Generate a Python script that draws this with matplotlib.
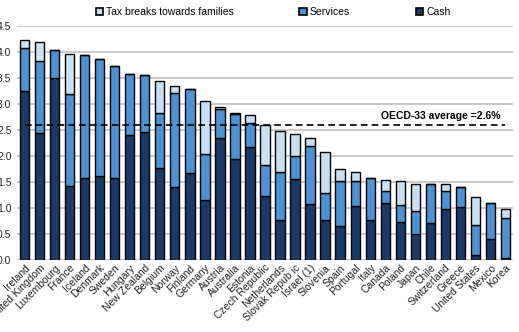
import matplotlib
matplotlib.use('Agg')
import matplotlib.pyplot as plt
from matplotlib.patches import Patch
import numpy as np

# Family benefit spending (% of GDP)
countries = ['Ireland', 'United Kingdom', 'Luxembourg', 'France', 'Iceland', 'Denmark',
             'Sweden', 'Hungary', 'New Zealand', 'Belgium', 'Norway', 'Finland',
             'Germany', 'Austria', 'Australia', 'Estonia', 'Czech Republic',
             'Netherlands', 'Slovak Repub ic', 'Israel (1)', 'Slovenia', 'Spain',
             'Portugal', 'Italy', 'Canada', 'Poland', 'Japan', 'Chile', 'Switzerland',
             'Greece', 'United States', 'Mexico', 'Korea']
cash = [3.25, 2.45, 3.50, 1.42, 1.57, 1.61, 1.57, 2.40, 2.47, 1.76, 1.41, 1.67,
        1.15, 2.34, 1.94, 2.17, 1.23, 0.77, 1.55, 1.08, 0.76, 0.66, 1.03, 0.77,
        1.10, 0.74, 0.50, 0.72, 0.99, 1.01, 0.10, 0.40, 0.03]
services = [0.82, 1.38, 0.53, 1.77, 2.38, 2.26, 2.17, 1.17, 1.08, 1.06, 1.81, 1.61,
            0.89, 0.57, 0.86, 0.46, 0.60, 0.93, 0.45, 1.12, 0.52, 0.86, 0.48, 0.80,
            0.23, 0.32, 0.44, 0.75, 0.34, 0.40, 0.57, 0.70, 0.77]
tax_breaks = [0.16, 0.37, 0.00, 0.77, 0.00, 0.00, 0.00, 0.00, 0.01, 0.63, 0.13, 0.00,
              1.02, 0.03, 0.02, 0.16, 0.77, 0.78, 0.42, 0.15, 0.80, 0.23, 0.19, 0.00,
              0.21, 0.46, 0.53, 0.00, 0.13, 0.00, 0.54, 0.00, 0.19]
oecd_avg = 2.6

CASH_C = '#1B3A66'
SERV_C = '#4D93D3'
TAX_C = '#C9E0F3'
FONT = ['Liberation Sans', 'DejaVu Sans']

plt.rcParams['font.family'] = FONT

fig = plt.figure(figsize=(5.19, 3.32), dpi=100)
ax = fig.add_axes([17 / 519, 72 / 332, 496 / 519, 234 / 332])

x = np.arange(len(countries))
cash = np.array(cash)
services = np.array(services)
tax_breaks = np.array(tax_breaks)

bar_kw = dict(width=0.62, edgecolor='black', linewidth=1.0, zorder=3)
ax.bar(x, cash, color=CASH_C, **bar_kw)
ax.bar(x, services, bottom=cash, color=SERV_C, **bar_kw)
ax.bar(x, tax_breaks, bottom=cash + services, color=TAX_C, **bar_kw)

# OECD average line + label
ax.plot([x[0], x[-1]], [oecd_avg, oecd_avg], color='black', linestyle='--',
        linewidth=1.2, dashes=(4, 2.5), zorder=4)
ax.text(x[-1] - 0.3, oecd_avg + 0.08, 'OECD-33 average =2.6%', ha='right', va='bottom',
        fontsize=7.5, fontweight='bold', zorder=5)

ax.set_xlim(-0.5, len(countries) - 0.5)
ax.set_ylim(0, 4.5)
yt = np.arange(0, 4.51, 0.5)
ax.set_yticks(yt)
ax.set_yticklabels([f'{v:.1f}' for v in yt], fontsize=7.5)
ax.grid(axis='y', color='#BFBFBF', linewidth=1.2, zorder=0)
ax.set_axisbelow(True)
for s in ax.spines.values():
    s.set_visible(False)
ax.tick_params(length=0, pad=4, colors='#222222')

ax.set_xticks(x)
ax.set_xticklabels(countries, rotation=45, ha='right', rotation_mode='anchor',
                   fontsize=7.5)
ax.tick_params(axis='x', pad=2)

handles = [Patch(facecolor=TAX_C, edgecolor='black', linewidth=1.2),
           Patch(facecolor=SERV_C, edgecolor='black', linewidth=1.2),
           Patch(facecolor=CASH_C, edgecolor='black', linewidth=1.2)]
labels = ['Tax breaks towards families', 'Services', 'Cash']
fig.legend(handles, labels, loc='center', bbox_to_anchor=(273 / 519, 1 - 12 / 332),
           ncol=3, frameon=False, fontsize=7.5, handlelength=0.7, handleheight=0.7,
           handletextpad=0.3, columnspacing=6.3)

fig.savefig('out.png', dpi=100)
